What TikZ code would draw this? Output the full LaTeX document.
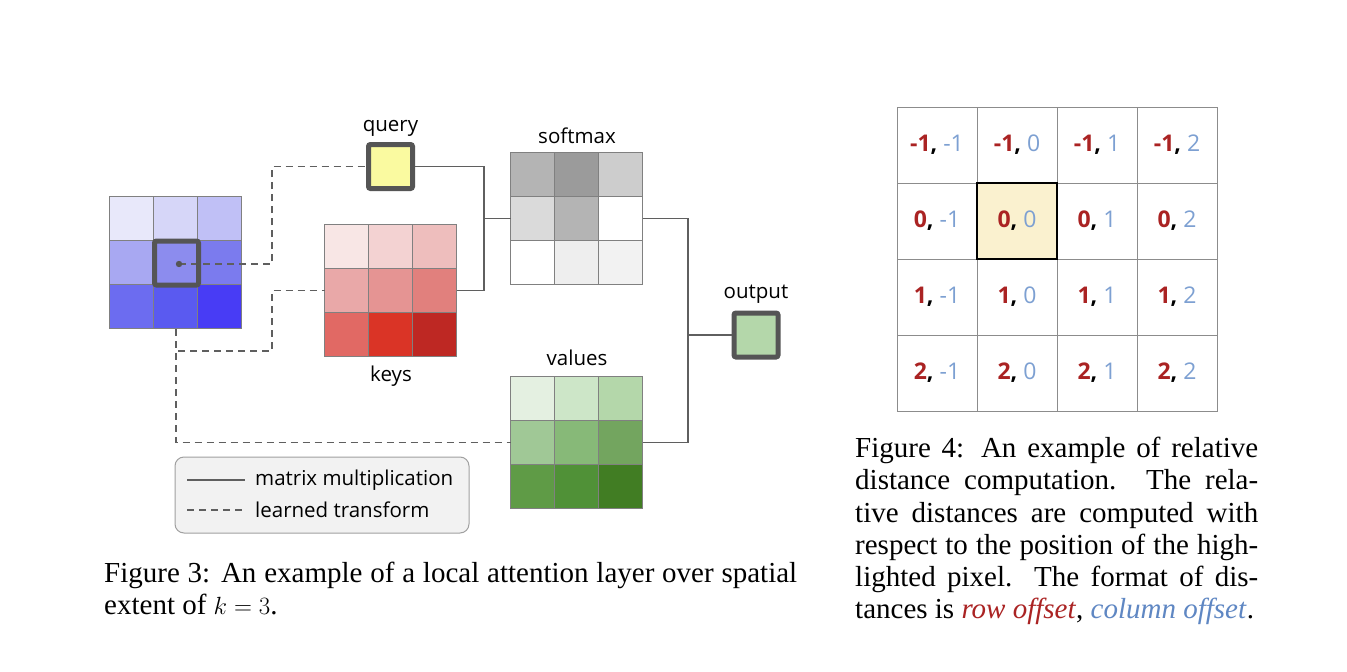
\documentclass[tikz,border=0pt]{standalone}
\usepackage{fontspec}
\setmainfont{Liberation Serif}
\newfontfamily\diagfont{Open Sans}
\usetikzlibrary{positioning,calc}

\definecolor{linegray}{RGB}{95,95,95}
\definecolor{cellgray}{RGB}{128,128,128}
\definecolor{boxgray}{RGB}{85,85,85}
\definecolor{queryfill}{RGB}{250,250,160}
\definecolor{outfill}{RGB}{180,215,170}
\definecolor{legendfill}{RGB}{242,242,242}
\definecolor{legenddraw}{RGB}{160,160,160}
\definecolor{rowred}{RGB}{170,35,35}
\definecolor{colblue}{RGB}{125,160,210}
\definecolor{capblue}{RGB}{95,135,195}
\definecolor{hlfill}{RGB}{250,241,207}
\definecolor{distline}{RGB}{140,140,140}

\tikzset{
  mat/.style={minimum size=132pt, inner sep=0pt},
  onebox/.style={minimum size=44pt, inner sep=0pt, line width=5pt, draw=boxgray, rounded corners=2pt},
  lbl/.style={font=\diagfont\fontsize{20.5}{24}\selectfont, inner sep=0pt},
  matmul/.style={draw=linegray, line width=1.6pt},
  learned/.style={draw=linegray, line width=1.6pt, dash pattern=on 7pt off 5pt},
  distcell/.style={draw=distline, line width=1pt, minimum width=80pt, minimum height=76pt,
    inner sep=0pt, font=\diagfont\fontsize{23}{26}\selectfont},
  caption/.style={inner sep=0pt, align=justify, font=\fontsize{29}{32.2}\selectfont},
}

% fill a 3x3 matrix node cell by cell
\newcommand{\fillmat}[2]{%
  \foreach \c [count=\k from 0] in {#2} {
    \pgfmathtruncatemacro{\col}{mod(\k,3)}
    \pgfmathtruncatemacro{\row}{floor(\k/3)}
    \edef\setcell{\noexpand\definecolor{cellc}{RGB}{\c}}\setcell
    \filldraw[fill=cellc, draw=cellgray, line width=0.8pt]
      ($(#1.north west)+(\col*44,\row*44)$) rectangle ++(44,44);
  }%
}

\begin{document}
\begin{tikzpicture}[x=1pt, y=-1pt]
\fill[white] (0,0) rectangle (1347,672);
\useasboundingbox (0,0) rectangle (1347,672);

% matrices
\node[mat] (input) at (176,263) {};
\node[mat] (keys) at (391,290.5) {};
\node[mat] (softmax) at (577,218.5) {};
\node[mat] (values) at (577,442.5) {};
\fillmat{input}{{232,232,250},{214,214,248},{192,192,246},{168,168,242},{140,140,238},{123,123,238},{108,108,240},{90,90,240},{72,60,245}}
\fillmat{keys}{{248,230,229},{243,210,210},{238,190,189},{233,168,168},{229,148,147},{225,128,125},{225,105,100},{218,52,38},{190,40,35}}
\fillmat{softmax}{{180,180,180},{155,155,155},{205,205,205},{218,218,218},{180,180,180},{255,255,255},{255,255,255},{238,238,238},{242,242,242}}
\fillmat{values}{{228,240,225},{205,230,200},{180,215,170},{160,200,150},{135,185,120},{115,165,95},{95,155,70},{80,145,55},{65,125,35}}

\node[onebox, fill=queryfill] (query) at (390.5,166.5) {};
\node[onebox, fill=outfill] (output) at (756,335) {};

% labels
\node[lbl, above=5pt of query] (querylbl) {query};
\node[lbl, above=8pt of softmax] (softmaxlbl) {softmax};
\node[lbl, above=7pt of output] (outputlbl) {output};
\node[lbl, above=10pt of values] (valueslbl) {values};
\node[lbl, below=9pt of keys] (keyslbl) {keys};

% learned transforms
\coordinate (dot) at (179,264);
\coordinate (qbend) at (272,264);
\coordinate (kbend) at (272,351);
\draw[learned] (dot) -- (qbend) |- (query.west);
\draw[learned] (input.south) |- (kbend) |- (keys.west);
\draw[learned] (input.south) |- (values.west);

\node[draw=boxgray, line width=5pt, minimum size=44pt, rounded corners=2pt] (centre) at (176.5,263) {};
\fill[boxgray] (dot) circle (3.2pt);

% matrix multiplications
\coordinate (mmjoin) at (484,218.5);
\coordinate (outjoin) at (688,335);
\draw[matmul] (query.east) -| (mmjoin) |- (keys.east);
\draw[matmul] (mmjoin) -- (softmax.west);
\draw[matmul] (softmax.east) -| (outjoin) |- (values.east);
\draw[matmul] (outjoin) -- (output.west);

% legend
\node[draw=legenddraw, fill=legendfill, line width=1pt, rounded corners=9pt,
  minimum width=294pt, minimum height=76pt] (legend) at (322,495) {};
\coordinate (mmA) at (187,480);
\coordinate (mmB) at (245,480);
\coordinate (ltA) at (187,510);
\coordinate (ltB) at (245,510);
\draw[matmul] (mmA) -- (mmB);
\draw[learned] (ltA) -- (ltB);
\node[lbl, anchor=west] (mmtext) at (255,480) {matrix multiplication};
\node[lbl, anchor=west] (lttext) at (255,510) {learned transform};

% relative distances
\foreach \r [count=\i from 0] in {-1,0,1,2}
  \foreach \c [count=\j from 0] in {-1,0,1,2}
    \node[distcell] (d\i\j) at (937+80*\j,145+76*\i)
      {\textbf{\textcolor{rowred}{\r},} \textcolor{colblue}{\c}};
\node[distcell, fill=hlfill, draw=black, line width=2.5pt] (d11) at (1017,221)
  {\textbf{\textcolor{rowred}{0},} \textcolor{colblue}{0}};

% captions
\node[caption, text width=693pt, anchor=north west] (cap3) at (104,562)
  {Figure 3: An example of a local attention layer over spatial\linebreak extent of $k = 3$.};
\node[caption, text width=403pt, anchor=north west] (cap4) at (855,437)
  {Figure 4: An example of relative\linebreak distance computation. The rela-\linebreak
   tive distances are computed with\linebreak respect to the position of the high-\linebreak
   lighted pixel. The format of dis-\linebreak tances is
   \textcolor{rowred}{\textit{row offset}}, \textcolor{capblue}{\textit{column offset}}.};
\end{tikzpicture}
\end{document}
